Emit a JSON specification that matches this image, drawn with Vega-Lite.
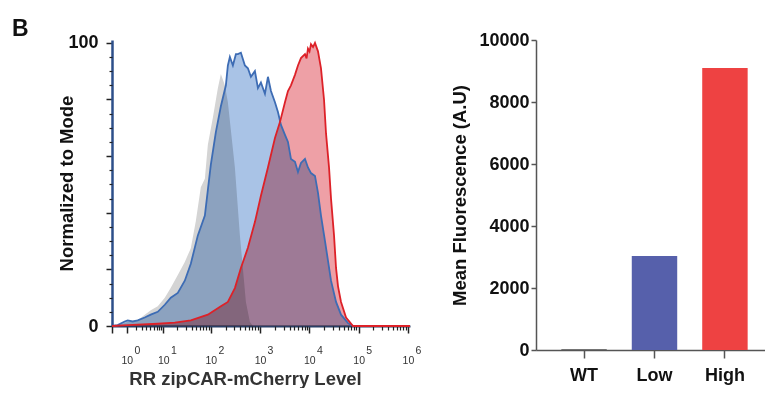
{
  "$schema": "https://vega.github.io/schema/vega-lite/v6.json",
  "padding": {"left": 12, "top": 18, "right": 0, "bottom": 0},
  "autosize": {"type": "pad"},
  "config": {
    "font": "Liberation Sans",
    "view": {"stroke": null},
    "axis": {"grid": false, "labelFont": "Liberation Sans", "titleFont": "Liberation Sans"}
  },
  "title": {"text": "B", "anchor": "start", "frame": "group", "fontSize": 23, "fontWeight": "bold", "color": "#111", "dx": -100, "offset": -10},
  "datasets": {
    "hist": [
      {"s":"WT","x":0,"y":0},{"s":"WT","x":0.5,"y":0.5},{"s":"WT","x":1.08,"y":1.5},{"s":"WT","x":2.32,"y":2},{"s":"WT","x":3.61,"y":4},{"s":"WT","x":5.1,"y":5.6},{"s":"WT","x":7.47,"y":7},{"s":"WT","x":10.75,"y":10},{"s":"WT","x":14.55,"y":13.5},{"s":"WT","x":20.57,"y":18},{"s":"WT","x":28.9,"y":22.6},{"s":"WT","x":38.6,"y":27.5},{"s":"WT","x":49,"y":37},{"s":"WT","x":62.2,"y":49},{"s":"WT","x":75.3,"y":52},{"s":"WT","x":86.7,"y":64},{"s":"WT","x":109.8,"y":73.5},{"s":"WT","x":138.9,"y":84},{"s":"WT","x":160.1,"y":89},{"s":"WT","x":193.2,"y":85},{"s":"WT","x":222.4,"y":79},{"s":"WT","x":309,"y":56},{"s":"WT","x":390.5,"y":32},{"s":"WT","x":517.3,"y":8.5},{"s":"WT","x":624,"y":1.4},{"s":"WT","x":717.9,"y":0},
      {"s":"Low","x":0,"y":0},{"s":"Low","x":0.305,"y":0.3},{"s":"Low","x":0.81,"y":1.6},{"s":"Low","x":1.08,"y":2},{"s":"Low","x":1.63,"y":1.6},{"s":"Low","x":2.32,"y":2},{"s":"Low","x":3.61,"y":3},{"s":"Low","x":5.1,"y":4},{"s":"Low","x":7.47,"y":5},{"s":"Low","x":10.75,"y":7.5},{"s":"Low","x":14.55,"y":10},{"s":"Low","x":20.57,"y":11.7},{"s":"Low","x":28.9,"y":16},{"s":"Low","x":38.6,"y":22},{"s":"Low","x":54,"y":32},{"s":"Low","x":75.3,"y":39},{"s":"Low","x":86.7,"y":48},{"s":"Low","x":99.9,"y":57},{"s":"Low","x":126.5,"y":68.5},{"s":"Low","x":160.1,"y":77.6},{"s":"Low","x":202.6,"y":85},{"s":"Low","x":222.4,"y":92},{"s":"Low","x":244.4,"y":95},{"s":"Low","x":281.3,"y":92},{"s":"Low","x":323.9,"y":96},{"s":"Low","x":355.7,"y":96},{"s":"Low","x":409.3,"y":96.5},{"s":"Low","x":493.6,"y":92},{"s":"Low","x":568,"y":91},{"s":"Low","x":653.5,"y":88},{"s":"Low","x":788.2,"y":90},{"s":"Low","x":907.5,"y":84},{"s":"Low","x":1044,"y":86},{"s":"Low","x":1260,"y":82},{"s":"Low","x":1449,"y":88},{"s":"Low","x":1668,"y":83},{"s":"Low","x":2011,"y":79},{"s":"Low","x":2313,"y":75.6},{"s":"Low","x":2663,"y":71},{"s":"Low","x":3209,"y":67.5},{"s":"Low","x":3691,"y":65},{"s":"Low","x":4246,"y":59},{"s":"Low","x":5120,"y":58},{"s":"Low","x":5889,"y":54.4},{"s":"Low","x":6775,"y":57.6},{"s":"Low","x":8170,"y":59},{"s":"Low","x":9394,"y":56},{"s":"Low","x":10813,"y":54},{"s":"Low","x":13040,"y":53},{"s":"Low","x":15000,"y":47},{"s":"Low","x":17254,"y":39},{"s":"Low","x":20806,"y":30},{"s":"Low","x":23950,"y":23},{"s":"Low","x":27550,"y":16},{"s":"Low","x":34820,"y":8.5},{"s":"Low","x":43950,"y":4},{"s":"Low","x":60960,"y":1},{"s":"Low","x":77000,"y":0},{"s":"Low","x":1100000,"y":0},
      {"s":"High","x":0,"y":0},{"s":"High","x":1.08,"y":0.3},{"s":"High","x":7.47,"y":0.8},{"s":"High","x":17.75,"y":1.2},{"s":"High","x":38.6,"y":2},{"s":"High","x":86.7,"y":4},{"s":"High","x":160.1,"y":7},{"s":"High","x":222.4,"y":8.5},{"s":"High","x":309,"y":13.4},{"s":"High","x":409.3,"y":20.5},{"s":"High","x":568,"y":27.6},{"s":"High","x":788.2,"y":36.7},{"s":"High","x":1044,"y":46},{"s":"High","x":1449,"y":56},{"s":"High","x":2011,"y":66.4},{"s":"High","x":2540,"y":72},{"s":"High","x":3209,"y":79},{"s":"High","x":3691,"y":83},{"s":"High","x":4246,"y":85},{"s":"High","x":5120,"y":88.7},{"s":"High","x":5889,"y":92},{"s":"High","x":6775,"y":94.6},{"s":"High","x":8170,"y":96},{"s":"High","x":8800,"y":94.5},{"s":"High","x":9394,"y":98},{"s":"High","x":10100,"y":97},{"s":"High","x":10813,"y":99.5},{"s":"High","x":11900,"y":98.5},{"s":"High","x":13040,"y":100},{"s":"High","x":15000,"y":97},{"s":"High","x":17254,"y":91},{"s":"High","x":19870,"y":80},{"s":"High","x":21820,"y":68},{"s":"High","x":25110,"y":56},{"s":"High","x":27550,"y":45},{"s":"High","x":31700,"y":32},{"s":"High","x":34820,"y":20.5},{"s":"High","x":38210,"y":14},{"s":"High","x":43950,"y":8.5},{"s":"High","x":55540,"y":3},{"s":"High","x":77000,"y":0},{"s":"High","x":1100000,"y":0}
    ],
    "bars": [
      {"g":"WT","v":25},{"g":"Low","v":3030},{"g":"High","v":9100}
    ]
  },
  "spacing": 29,
  "hconcat": [
    {
      "width": 298,
      "height": 286,
      "data": {"name": "hist"},
      "resolve": {"axis": {"x": "independent", "y": "independent"}},
      "layer": [
        {
          "mark": {"type": "area", "blend": "multiply"},
          "encoding": {
            "x": {"field": "x", "type": "quantitative",
              "scale": {"type": "symlog", "constant": 1, "domain": [0, 1100000], "nice": false},
              "axis": {"orient": "bottom", "values": [0,1,10,100,1000,10000,100000,1000000],
                "labelExpr": "datum.value < 1 ? '' : '10'",
                "tickSize": 7, "tickWidth": 1.5, "tickColor": "#222", "domainColor": "#2a3f66", "domainWidth": 2,
                "labelFontSize": 10.5, "labelColor": "#333", "labelPadding": 22, "labelFlush": false, "labelOverlap": false,
                "title": "RR zipCAR-mCherry Level", "titleFontSize": 18.5, "titleFontWeight": "bold", "titleColor": "#333",
                "titlePadding": 4, "titleX": 133}},
            "y": {"field": "y", "type": "quantitative", "stack": null,
              "scale": {"domain": [0, 101], "nice": false},
              "axis": {"orient": "left", "values": [0,20,40,60,80,100],
                "labelExpr": "datum.value == 0 || datum.value == 100 ? datum.label : ''",
                "tickSize": 6, "tickWidth": 1.5, "tickColor": "#222", "domainColor": "#2d4f8a", "domainWidth": 2.5,
                "labelFontSize": 18, "labelFontWeight": "bold", "labelColor": "#111", "labelPadding": 8,
                "title": "Normalized to Mode", "titleFontSize": 18.5, "titleFontWeight": "bold", "titleColor": "#111",
                "titlePadding": -9}},
            "fill": {"field": "s", "type": "nominal", "scale": {"domain": ["WT","Low","High"], "range": ["#d4d4d4","#a9c3e6","#eea0a6"]}, "legend": null}
          }
        },
        {
          "transform": [{"filter": "datum.s != 'WT'"}],
          "mark": {"type": "line", "strokeWidth": 1.8},
          "encoding": {
            "x": {"field": "x", "type": "quantitative",
              "axis": {"orient": "bottom", "values": [2,3,4,5,6,7,8,9,20,30,40,50,60,70,80,90,200,300,400,500,600,700,800,900,2000,3000,4000,5000,6000,7000,8000,9000,20000,30000,40000,50000,60000,70000,80000,90000,200000,300000,400000,500000,600000,700000,800000,900000],
                "labels": false, "domain": false, "tickSize": 4, "tickWidth": 1.2, "tickColor": "#222", "title": null}},
            "y": {"field": "y", "type": "quantitative",
              "axis": {"orient": "left", "values": [5,10,15,25,30,35,45,50,55,65,70,75,85,90,95],
                "labels": false, "domain": false, "tickSize": 3, "tickWidth": 1.2, "tickColor": "#222", "title": null}},
            "stroke": {"field": "s", "type": "nominal", "scale": {"domain": ["Low","High"], "range": ["#3d6cb4","#dd2128"]}, "legend": null}
          }
        },
        {
          "transform": [{"filter": "datum.s == 'WT'"}],
          "mark": {"type": "line", "opacity": 0},
          "encoding": {
            "x": {"field": "x", "type": "quantitative",
              "axis": {"orient": "bottom", "values": [1,10,100,1000,10000,100000,1000000],
                "labelExpr": "format(round(log(datum.value)/LN10), 'd')",
                "domain": false, "tickSize": 7, "tickOpacity": 0, "labelFontSize": 10.5, "labelColor": "#333",
                "labelPadding": 12, "labelOffset": 10, "labelFlush": false, "labelOverlap": false, "title": null}},
            "y": {"field": "y", "type": "quantitative", "axis": null}
          }
        }
      ]
    },
    {
      "width": 230,
      "height": 310,
      "data": {"name": "bars"},
      "mark": {"type": "bar"},
      "encoding": {
        "x": {"field": "g", "type": "nominal", "sort": ["WT","Low","High"],
          "scale": {"paddingInner": 0.355, "paddingOuter": 0.31, "align": 0.58},
          "axis": {"title": null, "labelAngle": 0, "tickSize": 8, "tickColor": "#555", "tickWidth": 1.5, "domainColor": "#555", "domainWidth": 1.5,
            "labelFontSize": 18, "labelFontWeight": "bold", "labelColor": "#111", "labelPadding": 8}},
        "y": {"field": "v", "type": "quantitative",
          "scale": {"domain": [0, 10000], "nice": false},
          "axis": {"values": [0,2000,4000,6000,8000,10000], "format": "d", "tickSize": 5, "tickColor": "#555", "tickWidth": 1.5,
            "domainColor": "#555", "domainWidth": 1.5, "labelFontSize": 18, "labelFontWeight": "bold", "labelColor": "#111", "labelPadding": 2,
            "title": "Mean Fluorescence (A.U)", "titleFontSize": 18.5, "titleFontWeight": "bold", "titleColor": "#111", "titlePadding": 9}},
        "color": {"field": "g", "type": "nominal", "scale": {"domain": ["WT","Low","High"], "range": ["#555555","#5660ab","#ee4242"]}, "legend": null}
      }
    }
  ]
}
